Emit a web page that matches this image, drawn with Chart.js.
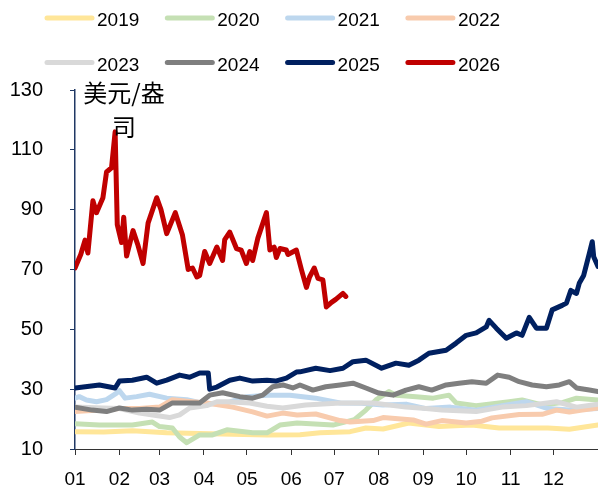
<!DOCTYPE html>
<html>
<head>
<meta charset="utf-8">
<script src="https://cdn.jsdelivr.net/npm/chart.js@4.4.1/dist/chart.umd.min.js"></script>
<style>
  html, body { margin: 0; padding: 0; background: #fff; }
  #wrap { width: 598px; height: 488px; }
</style>
</head>
<body>
<div id="wrap"><canvas id="chart" width="598" height="488"></canvas></div>
<script>
// month start (day of year) and tick labels
const monthStarts = [0, 31, 59, 90, 120, 151, 181, 212, 243, 273, 304, 334];
const monthLabels = ['01', '02', '03', '04', '05', '06', '07', '08', '09', '10', '11', '12'];
const yTicks = [10, 30, 50, 70, 90, 110, 130];

const years = ['2019', '2020', '2021', '2022', '2023', '2024', '2025', '2026'];
const colors = ['#FFE699', '#C5E0B4', '#BDD7EE', '#F8CBAD', '#D9D9D9', '#7F7F7F', '#002060', '#C00000'];

// silver price, USD/oz (day of year, value)
const d2019 = [0, 20, 40, 64, 87, 110, 134, 157, 171, 192, 203, 215, 233, 245, 254, 277, 296, 308, 330, 345, 365];
const v2019 = [15.8, 15.7, 16.1, 15.4, 15.2, 14.9, 14.7, 14.8, 15.4, 15.8, 17, 16.7, 18.7, 18, 17.5, 18, 17, 17, 17, 16.6, 18];

const d2020 = [0, 17, 40, 54, 59, 68, 73, 78, 87, 96, 106, 124, 134, 143, 155, 180, 195, 203, 210, 219, 224, 238, 250, 261, 266, 280, 303, 312, 326, 340, 350, 365];
const v2020 = [18.4, 18, 18, 19, 17.5, 17, 14, 12.1, 14.7, 14.7, 16.4, 15.4, 15.4, 18, 18.7, 18, 19.8, 23, 26.4, 29.2, 28, 27.5, 27, 28, 25.4, 24.5, 25.8, 26.4, 24.7, 25.5, 27, 26.4];

const d2021 = [0, 3, 8, 15, 22, 29, 31, 35, 43, 52, 64, 78, 92, 106, 120, 134, 150, 168, 185, 200, 215, 231, 245, 262, 280, 298, 315, 330, 345, 365];
const v2021 = [27, 27.5, 26.4, 25.8, 26.5, 28.7, 29.5, 27, 27.5, 28.3, 27, 26.5, 25, 25.4, 27.5, 28, 28, 27, 25.4, 25.3, 24.7, 25, 23.5, 24, 23, 24.5, 25.8, 23.5, 23, 23.5];

const d2022 = [0, 17, 31, 45, 59, 68, 78, 92, 110, 124, 134, 145, 155, 168, 185, 192, 208, 215, 236, 245, 256, 273, 284, 291, 310, 326, 336, 345, 354, 365];
const v2022 = [22.5, 23, 23.5, 23.5, 24, 26.5, 26, 25.4, 24, 22.4, 21, 22, 21.4, 21.7, 19.5, 19, 19.5, 20.5, 19.7, 18.3, 19.5, 18.7, 19.3, 20.4, 21.5, 21.6, 23, 22.4, 23, 23.7];

const d2023 = [0, 14, 31, 45, 59, 66, 73, 80, 92, 99, 106, 122, 134, 145, 161, 185, 208, 231, 245, 256, 280, 298, 315, 336, 350, 365];
const v2023 = [24, 23.8, 23.5, 22, 21, 20.5, 21.4, 23.7, 24.5, 25.8, 25.8, 25.4, 24.3, 23.7, 24.7, 25.4, 25.4, 24, 23.5, 23, 22.5, 24, 24.5, 25.8, 24, 25];

const d2024 = [0, 12, 22, 31, 40, 50, 59, 68, 78, 87, 94, 103, 115, 124, 131, 138, 145, 152, 157, 166, 175, 185, 194, 203, 212, 222, 231, 240, 249, 259, 268, 277, 287, 295, 303, 310, 319, 329, 338, 345, 350, 359, 365];
const v2024 = [24, 23, 22.5, 23.7, 23, 23.3, 23, 25.4, 25.4, 25.4, 28, 28.8, 27.5, 27, 28, 30.8, 31.4, 30.4, 31.4, 29.7, 30.8, 31.4, 32, 30.4, 28.7, 28, 29.7, 30.8, 29.7, 31.4, 32, 32.5, 32, 34.7, 34, 32.5, 31.4, 30.8, 31.4, 32.5, 30.4, 29.7, 29.2];

const d2025 = [0, 10, 17, 28, 31, 40, 50, 57, 64, 73, 80, 87, 93, 94, 99, 108, 115, 124, 134, 140, 147.5, 154.5, 157, 168, 178, 187, 194, 203, 214, 224, 233, 240, 247, 259, 266, 273, 280, 287, 289, 294, 301, 308, 312, 317, 322, 329, 333, 340, 343, 346, 350, 352, 355, 359, 361, 362, 365];
const v2025 = [30.4, 31, 31.4, 30.4, 32.7, 33, 34, 32, 33, 34.7, 34, 35.4, 35.4, 30, 30.7, 33, 33.7, 32.7, 33, 32.7, 33.7, 35.7, 35.8, 37, 36.2, 37, 39.2, 39.7, 37, 38.7, 38, 39.7, 42, 43, 45.4, 48, 48.8, 50.8, 53, 50.4, 47, 48.8, 48, 54, 50.4, 50.4, 56.5, 58, 58.8, 63, 62, 65.5, 68, 75.5, 79.3, 74.3, 71];

const d2026 = [0, 4, 7, 9, 12.5, 15, 19.5, 22, 25.5, 28, 29.5, 32.5, 34, 36, 40.5, 44, 47.5, 51, 57, 60, 64, 70, 75, 79, 82, 85, 87, 90.5, 94, 99, 103, 104.5, 108, 112.7, 116, 119.6, 122, 124, 127.6, 133.6, 136, 139, 140.5, 143, 147.5, 148.6, 154.5, 158, 161.5, 163.7, 167, 169.6, 173, 175.4, 179, 182, 187, 189];
const v2026 = [70.5, 75, 79.8, 75.5, 93, 89, 94, 102.6, 104, 116, 85, 79, 87.5, 74.5, 83, 78, 72, 85.5, 94, 90, 82, 89, 81.5, 70, 70.5, 67.5, 68, 76, 72, 77.5, 73, 80, 82.5, 77, 76.5, 72, 76, 73, 80.5, 89, 76.5, 77.5, 74, 77, 76.5, 75, 76.5, 70, 64, 67.5, 70.5, 67, 66.5, 57.5, 59, 60, 62, 61];

const dayArrays = [d2019, d2020, d2021, d2022, d2023, d2024, d2025, d2026];
const valArrays = [v2019, v2020, v2021, v2022, v2023, v2024, v2025, v2026];

const textFont = "'Liberation Sans', Arial, sans-serif";

const datasets = years.map((y, i) => ({
  label: y,
  data: dayArrays[i].map((d, k) => ({ x: d, y: valArrays[i][k] })),
  borderColor: colors[i],
  backgroundColor: colors[i],
  borderWidth: 5,
  pointRadius: 0,
  tension: 0,
  borderJoinStyle: 'round',
  borderCapStyle: 'round',
  order: years.length - 1 - i // later years on top
}));

// legend drawn in two rows of four, plus the unit label
const extras = {
  id: 'extras',
  afterDraw(chart) {
    const ctx = chart.ctx;
    ctx.save();
    chart.data.datasets.forEach((ds, i) => {
      const x0 = 45 + (i % 4) * 120.3;
      const y0 = 18 + Math.floor(i / 4) * 44.5;
      ctx.strokeStyle = ds.borderColor;
      ctx.lineWidth = 5;
      ctx.lineCap = 'round';
      ctx.beginPath();
      ctx.moveTo(x0 + 2, y0);
      ctx.lineTo(x0 + 47, y0);
      ctx.stroke();
      ctx.fillStyle = '#000';
      ctx.font = '19px ' + textFont;
      ctx.textBaseline = 'middle';
      ctx.textAlign = 'left';
      ctx.fillText(ds.label, x0 + 52, y0 + 3);
    });
    ctx.font = "24px 'Noto Sans CJK SC', sans-serif";
    ctx.textAlign = 'center';
    ctx.textBaseline = 'middle';
    ctx.fillStyle = '#000';
    ctx.fillText('美元/盎', 124, 93);
    ctx.fillText('司', 124, 127);
    ctx.restore();
  }
};

new Chart(document.getElementById('chart'), {
  type: 'line',
  data: { datasets },
  options: {
    responsive: false,
    animation: false,
    devicePixelRatio: 1,
    layout: { padding: { top: 90, left: 8, right: 0, bottom: 0 } },
    plugins: { legend: { display: false }, tooltip: { enabled: false } },
    scales: {
      x: {
        type: 'linear',
        min: 0,
        max: 365,
        afterBuildTicks: scale => { scale.ticks = monthStarts.map(v => ({ value: v })); },
        afterFit: scale => { scale.height = 39; },
        ticks: {
          autoSkip: false,
          maxRotation: 0,
          padding: 13,
          color: '#000',
          font: { family: textFont, size: 19 },
          callback: v => monthLabels[monthStarts.indexOf(v)]
        },
        grid: { drawOnChartArea: false, drawTicks: true, tickLength: 6, color: '#333' },
        border: { color: '#333', width: 1 }
      },
      y: {
        min: 10,
        max: 130,
        afterBuildTicks: scale => { scale.ticks = yTicks.map(v => ({ value: v })); },
        afterFit: scale => { scale.width = 67; },
        ticks: {
          padding: 27,
          color: '#000',
          font: { family: textFont, size: 20 }
        },
        grid: { drawOnChartArea: false, drawTicks: true, tickLength: 5, color: '#203864' },
        border: { color: '#203864', width: 1.5 }
      }
    }
  },
  plugins: [extras]
});
</script>
</body>
</html>
